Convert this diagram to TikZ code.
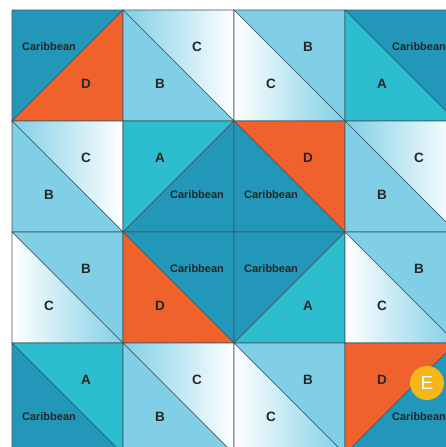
\documentclass[tikz,border=0pt]{standalone}
\usepackage{fontspec}
\setmainfont{Liberation Sans}
\usepackage{xcolor}
\usepackage{tikz}

\definecolor{caribcol}{RGB}{35,151,185}
\definecolor{acol}{RGB}{44,189,207}
\definecolor{bcol}{RGB}{128,207,230}
\definecolor{dcol}{RGB}{240,98,44}
\definecolor{ecol}{RGB}{246,182,26}
\definecolor{seamcol}{RGB}{60,85,95}

\newcommand{\cbn}{{\fontsize{11}{11}\selectfont Caribbean}}

% cell with diagonal from top left to bottom right
\newcommand{\downcell}[7]{%
  \path[patch, #4] (#2,#3) -- ++(111,0) -- ++(0,111) -- cycle;
  \path[patch, #6] (#2,#3) -- ++(0,111) -- ++(111,0) -- cycle;
  \node[lbl] (#1-u) at (#2+74,#3+37) {#5};
  \node[lbl] (#1-l) at (#2+37,#3+74) {#7};
}
% cell with diagonal from bottom left to top right
\newcommand{\upcell}[7]{%
  \path[patch, #4] (#2,#3) -- ++(111,0) -- ++(-111,111) -- cycle;
  \path[patch, #6] (#2+111,#3) -- ++(0,111) -- ++(-111,0) -- cycle;
  \node[lbl] (#1-u) at (#2+37,#3+37) {#5};
  \node[lbl] (#1-l) at (#2+74,#3+74) {#7};
}

\begin{document}
\begin{tikzpicture}[
    x=1pt, y=-1pt,
    patch/.style={draw=seamcol, line width=0.6pt, line join=round},
    tcar/.style={fill=caribcol},
    ta/.style={fill=acol},
    tb/.style={fill=bcol},
    td/.style={fill=dcol},
    tcu/.style={left color=bcol, right color=white},
    tcl/.style={left color=white, right color=bcol},
    lbl/.style={text=black!85, font=\bfseries\fontsize{13.5}{13.5}\selectfont, inner sep=0pt},
    badge/.style={circle, fill=ecol, minimum size=34pt, inner sep=0pt, text=white, font=\fontsize{19}{19}\selectfont}
]
    \fill[white] (0,0) rectangle (446,447);
    \clip (0,0) rectangle (446,447);

    % row 1
    \upcell{a1}{12}{10}{tcar}{\cbn}{td}{D}
    \downcell{a2}{123}{10}{tcu}{C}{tb}{B}
    \downcell{a3}{234}{10}{tb}{B}{tcl}{C}
    \downcell{a4}{345}{10}{tcar}{\cbn}{ta}{A}
    % row 2
    \downcell{b1}{12}{121}{tcu}{C}{tb}{B}
    \upcell{b2}{123}{121}{ta}{A}{tcar}{\cbn}
    \downcell{b3}{234}{121}{td}{D}{tcar}{\cbn}
    \downcell{b4}{345}{121}{tcu}{C}{tb}{B}
    % row 3
    \downcell{c1}{12}{232}{tb}{B}{tcl}{C}
    \downcell{c2}{123}{232}{tcar}{\cbn}{td}{D}
    \upcell{c3}{234}{232}{tcar}{\cbn}{ta}{A}
    \downcell{c4}{345}{232}{tb}{B}{tcl}{C}
    % row 4
    \downcell{d1}{12}{343}{ta}{A}{tcar}{\cbn}
    \downcell{d2}{123}{343}{tcu}{C}{tb}{B}
    \downcell{d3}{234}{343}{tb}{B}{tcl}{C}
    \upcell{d4}{345}{343}{td}{D}{tcar}{\cbn}

    \node[badge] (e) at (427,383) {E};
\end{tikzpicture}
\end{document}
